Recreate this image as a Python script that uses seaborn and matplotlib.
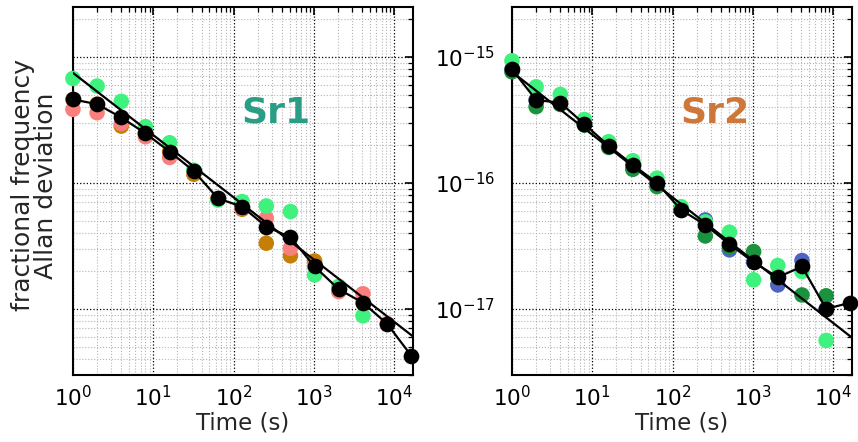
import numpy as np
import pandas as pd
import seaborn as sns
from matplotlib import pyplot as plt

nan = np.nan

# averaging times (s)
tau = [1, 2, 4, 8, 16, 32, 64, 128, 256, 512, 1024, 2048, 4096, 8192, 16384]

# Sr1 Allan deviations
sr1_orange = [4.59e-16, 4.21e-16, 2.82e-16, 2.47e-16, 1.77e-16, 1.17e-16, 7.5e-17, 6.17e-17,
              3.32e-17, 2.64e-17, 2.40e-17, 1.43e-17, 1.12e-17, nan, nan]
sr1_salmon = [3.83e-16, 3.60e-16, 2.96e-16, 2.32e-16, 1.59e-16, 1.23e-16, 7.5e-17, 6.28e-17,
              5.24e-17, 3.03e-17, 2.17e-17, 1.37e-17, 1.32e-17, 7.62e-18, nan]
sr1_green = [6.73e-16, 5.86e-16, 4.43e-16, 2.79e-16, 2.08e-16, 1.26e-16, 7.31e-17, 7.10e-17,
             6.56e-17, 5.92e-17, 1.86e-17, 1.51e-17, 8.81e-18, nan, nan]
sr1_total = [4.59e-16, 4.21e-16, 3.30e-16, 2.47e-16, 1.77e-16, 1.24e-16, 7.53e-17, 6.47e-17,
             4.50e-17, 3.70e-17, 2.17e-17, 1.43e-17, 1.12e-17, 7.62e-18, 4.25e-18]

# Sr2 Allan deviations
sr2_blue = [7.98e-16, 4.54e-16, 4.32e-16, 2.92e-16, 1.97e-16, 1.39e-16, 1.00e-16, 6.10e-17,
            5.08e-17, 2.94e-17, 2.35e-17, 1.55e-17, 2.42e-17, 1.0e-17, nan]
sr2_dgreen = [7.6e-16, 4.02e-16, 4.19e-16, 2.87e-16, 1.91e-16, 1.28e-16, 9.33e-17, 6.10e-17,
              3.79e-17, 3.1e-17, 2.85e-17, 1.78e-17, 1.29e-17, 1.27e-17, nan]
sr2_lgreen = [9.3e-16, 5.78e-16, 5.03e-16, 3.18e-16, 2.12e-16, 1.50e-16, 1.09e-16, 6.47e-17,
              4.9e-17, 4.06e-17, 1.70e-17, 2.21e-17, 1.98e-17, 5.62e-18, nan]
sr2_total = [7.98e-16, 4.54e-16, 4.32e-16, 2.92e-16, 1.97e-16, 1.39e-16, 1.00e-16, 6.10e-17,
             4.64e-17, 3.26e-17, 2.35e-17, 1.78e-17, 2.17e-17, 1.0e-17, 1.12e-17]

# white-noise fit lines (end points)
fit_tau = [1, 17500]
sr1_fit = [7.46e-16, 6.0e-18]
sr2_fit = [7.6e-16, 5.86e-18]

sr1_runs = {"orange": sr1_orange, "salmon": sr1_salmon, "green": sr1_green}
sr2_runs = {"blue": sr2_blue, "dgreen": sr2_dgreen, "lgreen": sr2_lgreen}
colors = {"orange": "#c67f06", "salmon": "#f97f7d", "green": "#3ff27d",
          "blue": "#4e63c4", "dgreen": "#1b923e", "lgreen": "#3ff27d"}


def long_table(runs):
    parts = [pd.DataFrame({"tau": tau, "adev": v, "run": k}) for k, v in runs.items()]
    return pd.concat(parts, ignore_index=True).dropna()


sns.set_theme(style="white")
plt.rcParams["font.family"] = ["DejaVu Sans"]
plt.rcParams["axes.unicode_minus"] = False
plt.rcParams["axes.edgecolor"] = "black"
plt.rcParams["axes.linewidth"] = 1.5

fig, axes = plt.subplots(1, 2, figsize=(8.58, 4.42), dpi=100)
fig.subplots_adjust(left=0.085, right=0.993, bottom=0.152, top=0.984, wspace=0.291)

panels = [(axes[0], sr1_runs, sr1_total, sr1_fit, "Sr1", "#2a9d86"),
          (axes[1], sr2_runs, sr2_total, sr2_fit, "Sr2", "#cd773a")]

for ax, runs, total, fit, name, tcol in panels:
    ax.set_xscale("log")
    ax.set_yscale("log")
    df = long_table(runs)
    sns.scatterplot(data=df, x="tau", y="adev", hue="run", palette=colors,
                    s=125, linewidth=0, legend=False, clip_on=False, zorder=3, ax=ax)
    sns.lineplot(x=fit_tau, y=fit, color="black", lw=1.6, zorder=4, ax=ax)
    sns.lineplot(x=tau, y=total, color="black", lw=1.6, marker="o", markersize=11.3,
                 markeredgewidth=0, clip_on=False, zorder=5, ax=ax)
    ax.set_xlim(1, 1.72e4)
    ax.set_ylim(3.0e-18, 2.48e-15)
    ax.grid(which="major", ls=":", color="black", lw=0.9)
    ax.grid(which="minor", ls=":", color="#b5b5b5", lw=0.8)
    ax.set_axisbelow(True)
    ax.tick_params(which="both", direction="in", top=True, right=True,
                   labelsize=15.5, colors="black")
    ax.tick_params(which="major", length=6, width=1.2)
    ax.tick_params(which="minor", length=3.5, width=0.9)
    ax.tick_params(axis="x", pad=7)
    ax.tick_params(axis="y", pad=12)
    for s in ax.spines.values():
        s.set_linewidth(1.5)
        s.set_color("black")
    ax.set_xlabel("Time (s)", fontsize=16.5, labelpad=1)
    ax.text(0.598, 0.685, name, transform=ax.transAxes, ha="center", va="baseline",
            fontsize=26, fontweight="bold", color=tcol)

axes[0].tick_params(axis="y", labelleft=False)
axes[0].set_ylabel("fractional frequency\nAllan deviation", fontsize=18, linespacing=0.95)
axes[0].yaxis.set_label_coords(-0.045, 0.515)
axes[1].yaxis.label.set_visible(False)

plt.savefig("out.png", dpi=100)
